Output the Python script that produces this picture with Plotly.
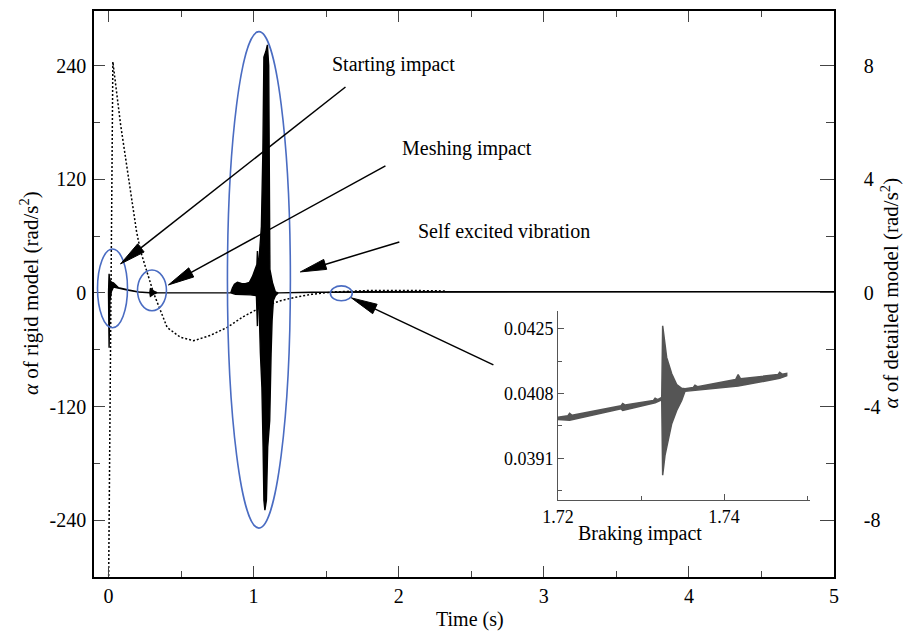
import numpy as np
import plotly.graph_objects as go

# Rigid model angular acceleration (rad/s^2), dotted, left axis
rigid_t = [0.0, 0.03, 0.083, 0.193, 0.221, 0.31, 0.404, 0.496, 0.587, 0.70,
           0.817, 0.93, 1.047, 1.185, 1.276, 1.40, 1.55, 1.8, 2.1, 2.33]
rigid_a = [-320, 244, 178, 65, 44, 0, -36.5, -47, -50.5, -45,
           -36.5, -25, -15.5, -8.4, -5, -1.5, 1, 2.5, 2.5, 2]

# Detailed model (rad/s^2), right axis: upper / lower envelope of the vibration
det_up_t = [0.0, 0.004, 0.008, 0.020, 0.034, 0.069, 0.138, 0.207, 0.285, 0.289,
            0.300, 0.315, 0.335, 0.50,
            0.8423, 0.8540, 0.8678, 0.8884, 0.9160, 0.9435, 0.9711, 0.9917, 1.0124,
            1.0227, 1.0262, 1.0296, 1.0379, 1.0537, 1.0640, 1.0709, 1.0847, 1.0950,
            1.1040, 1.1074, 1.1123, 1.1295, 1.1501, 1.1708, 1.40, 1.73, 5.0]
det_up_a = [0.0, 0.67, 0.45, 0.38, 0.35, 0.18, 0.10, 0.035, 0.01, 0.16,
            0.11, 0.05, 0.01, 0.0,
            0.0, 0.17, 0.30, 0.37, 0.33, 0.32, 0.37, 0.57, 0.83,
            1.0, 1.47, 1.07, 1.2, 2.33, 5.0, 8.3, 8.5, 8.73,
            8.0, 2.0, 0.83, 0.37, 0.03, 0.0, 0.02, 0.04, 0.04]
det_lo_t = [0.0, 0.004, 0.009, 0.020, 0.034, 0.069, 0.138, 0.207, 0.285, 0.289,
            0.300, 0.315, 0.335, 0.50,
            0.8423, 0.8747, 0.9780, 1.0193, 1.0262, 1.0296, 1.0379, 1.0468, 1.0572,
            1.0654, 1.0709, 1.0778, 1.0882, 1.0971, 1.1109, 1.1205, 1.1274, 1.1364,
            1.1501, 1.1708, 1.40, 1.73, 5.0]
det_lo_a = [0.0, -1.93, -0.3, 0.05, 0.2, 0.16, 0.09, 0.03, 0.0, -0.12,
            -0.08, -0.03, 0.0, 0.0,
            0.0, -0.05, -0.07, -0.1, -1.17, -0.3, -0.47, -2.13, -3.33,
            -5.43, -7.3, -7.65, -7.3, -5.43, -4.5, -2.13, -0.97, -0.27,
            -0.1, 0.0, 0.02, 0.04, 0.04]

# Braking impact detail (inset)
brk_up_t = [1.7200, 1.7212, 1.7214, 1.7217, 1.7276, 1.7278, 1.7281, 1.7315, 1.7317,
            1.7320, 1.7325, 1.73261, 1.73289, 1.73309, 1.7337, 1.7343, 1.7349,
            1.7353, 1.7363, 1.7365, 1.7368, 1.7414, 1.7417, 1.7420, 1.7465,
            1.7467, 1.7470, 1.74755]
brk_up_a = [0.04018, 0.04022, 0.04028, 0.04023, 0.04048, 0.04054, 0.04050, 0.04062,
            0.04068, 0.04064, 0.04070, 0.04258, 0.04210, 0.04175, 0.04132, 0.04104,
            0.04094, 0.04093, 0.04096, 0.04102, 0.04098, 0.04117, 0.04130, 0.04119,
            0.04130, 0.04136, 0.04131, 0.04133]
brk_lo_t = [1.7200, 1.7214, 1.7276, 1.7278, 1.7317, 1.7325, 1.73261, 1.73289,
            1.73309, 1.7337, 1.7343, 1.7349, 1.7353, 1.7365, 1.7417, 1.7467, 1.74755]
brk_lo_a = [0.04012, 0.04010, 0.04040, 0.04036, 0.04056, 0.04064, 0.03866, 0.03918,
            0.03940, 0.04001, 0.04036, 0.04062, 0.04086, 0.04088, 0.04100, 0.04120,
            0.04127]

x_ticks = [0, 1, 2, 3, 4, 5]
rigid_ticks = [-240, -120, 0, 120, 240]
rigid_tick_text = ["-240", "-120", "0", "120", "240"]
detailed_ticks = [-8, -4, 0, 4, 8]
detailed_tick_text = ["-8", "-4", "0", "4", "8"]
inset_x_ticks = [1.72, 1.74]
inset_y_ticks = [0.0391, 0.0408, 0.0425]

FONT = "Liberation Serif, Times New Roman, serif"
BLUE = "#4a6cc2"

fig = go.Figure()

fig.add_trace(go.Scatter(
    x=rigid_t, y=rigid_a, mode="lines", xaxis="x", yaxis="y",
    line=dict(color="black", width=1.5, dash="2px,2px"), showlegend=False,
    hoverinfo="skip"))

fig.add_trace(go.Scatter(
    x=det_up_t + det_lo_t[::-1], y=det_up_a + det_lo_a[::-1],
    mode="lines", fill="toself", fillcolor="black", xaxis="x", yaxis="y2",
    line=dict(color="black", width=1.4), showlegend=False, hoverinfo="skip"))

fig.add_trace(go.Scatter(
    x=brk_up_t + brk_lo_t[::-1], y=brk_up_a + brk_lo_a[::-1],
    mode="lines", fill="toself", fillcolor="#555555", xaxis="x3", yaxis="y3",
    line=dict(color="#555555", width=1.5), showlegend=False, hoverinfo="skip"))

tick_font = dict(family=FONT, size=20, color="black")

fig.update_layout(
    width=907, height=635,
    margin=dict(l=94, r=73, t=9, b=58),
    paper_bgcolor="white", plot_bgcolor="white",
    font=dict(family=FONT, color="black"),
    xaxis=dict(range=[-0.1, 5.0], tickvals=x_ticks, ticks="inside", ticklen=11,
               tickwidth=1.3, showline=True, linewidth=1.5, linecolor="black",
               mirror="ticks", showgrid=False, zeroline=False, tickfont=tick_font,
               minor=dict(dtick=0.5, tick0=0, ticks="inside", ticklen=6,
                          tickwidth=1.2, showgrid=False)),
    yaxis=dict(range=[-300, 297.6], tickvals=rigid_ticks, ticktext=rigid_tick_text,
               ticks="inside", ticklen=11,
               tickwidth=1.3, showline=True, linewidth=1.5, linecolor="black",
               showgrid=False, zeroline=False, tickfont=tick_font,
               ticklabelstandoff=2,
               minor=dict(dtick=60, tick0=0, ticks="inside", ticklen=6,
                          tickwidth=1.2, showgrid=False)),
    yaxis2=dict(range=[-10, 9.92], overlaying="y", side="right", tickvals=detailed_ticks,
                ticktext=detailed_tick_text,
                ticks="inside", ticklen=14, tickwidth=1.3, showline=True, linewidth=1.5,
                linecolor="black", showgrid=False, zeroline=False, tickfont=tick_font,
                ticklabelstandoff=24,
                minor=dict(dtick=2, tick0=0, ticks="inside", ticklen=8,
                           tickwidth=1.2, showgrid=False)),
    xaxis3=dict(domain=[0.627, 0.9676], anchor="y3", range=[1.72, 1.75036],
                tickvals=inset_x_ticks, tickformat=".2f", ticks="inside", ticklen=6,
                showline=True, linewidth=1, linecolor="#555", tickcolor="#555",
                showgrid=False, zeroline=False,
                tickfont=dict(family=FONT, size=18, color="black"),
                minor=dict(dtick=0.01, tick0=1.72, ticks="inside", ticklen=4,
                           tickcolor="#555", showgrid=False)),
    yaxis3=dict(domain=[0.1356, 0.470], anchor="x3", range=[0.0380, 0.04297],
                tickvals=inset_y_ticks, tickformat=".4f", ticks="inside", ticklen=6,
                showline=True, linewidth=1, linecolor="#555", tickcolor="#555",
                showgrid=False, zeroline=False,
                tickfont=dict(family=FONT, size=18, color="black"),
                minor=dict(dtick=0.00085, tick0=0.0391, ticks="inside", ticklen=4,
                           tickcolor="#555", showgrid=False)),
)

# Highlight ellipses around the events (rigid-axis data units)
ellipses = [
    (-0.0758, 0.1309, -36.8, 46.3),
    (0.1997, 0.3994, -18.9, 24.2),
    (0.8196, 1.2534, -248.4, 275.8),
    (1.529, 1.680, -8.4, 7.4),
]
shapes = []
for x0, x1, y0, y1 in ellipses:
    shapes.append(dict(type="circle", xref="x", yref="y", x0=x0, x1=x1, y0=y0, y1=y1,
                       line=dict(color=BLUE, width=1.6), layer="above"))

# Pointer arrows: tip in data units, tail offset in screen pixels
pointers = [
    (0.0826, 30.5, 225, -177),
    (0.413, 8.4, 217, -119),
    (1.322, 22.1, 99, -30),
    (1.674, -5.3, 142, 67),
]
for tip_t, tip_a, dx, dy in pointers:
    n = np.hypot(dx, dy)
    ux, uy = dx / n, dy / n
    L, W = 26, 5.2
    bx, by = ux * L, uy * L
    px, py = -uy * W, ux * W
    pts = [(0, 0), (bx + px, by + py), (bx - px, by - py)]
    path = "M " + " L ".join(f"{x:.2f},{-y:.2f}" for x, y in pts) + " Z"
    shapes.append(dict(type="path", xref="x", yref="y", xsizemode="pixel",
                       ysizemode="pixel", xanchor=tip_t, yanchor=tip_a, path=path,
                       fillcolor="black", line=dict(color="black", width=1),
                       layer="above"))
    shapes.append(dict(type="line", xref="x", yref="y", xsizemode="pixel",
                       ysizemode="pixel", xanchor=tip_t, yanchor=tip_a,
                       x0=bx * 0.5, y0=-by * 0.5, x1=dx, y1=-dy,
                       line=dict(color="black", width=1.5), layer="above"))

fig.update_layout(shapes=shapes)

def label(text, x, y, size=20, angle=0):
    return dict(text=text, x=x, y=y, xref="paper", yref="paper", showarrow=False,
                xanchor="center", yanchor="middle", textangle=angle,
                font=dict(family=FONT, size=size, color="black"))

annotations = [
    label("Starting impact", 0.4054, 0.9049),
    label("Meshing impact", 0.504, 0.757),
    label("Self excited vibration", 0.554, 0.611),
    label("Braking impact", 0.7378, 0.0775),
    label("Time (s)", 0.508, -0.0757),
    label("<i>α</i> of rigid model (rad/s<sup>2</sup>)", -0.087, 0.501, size=21, angle=-90),
    label("<i>α</i> of detailed model (rad/s<sup>2</sup>)", 1.0757, 0.501, size=21, angle=-90),
]
fig.update_layout(annotations=annotations)

fig.write_html("out.html")
